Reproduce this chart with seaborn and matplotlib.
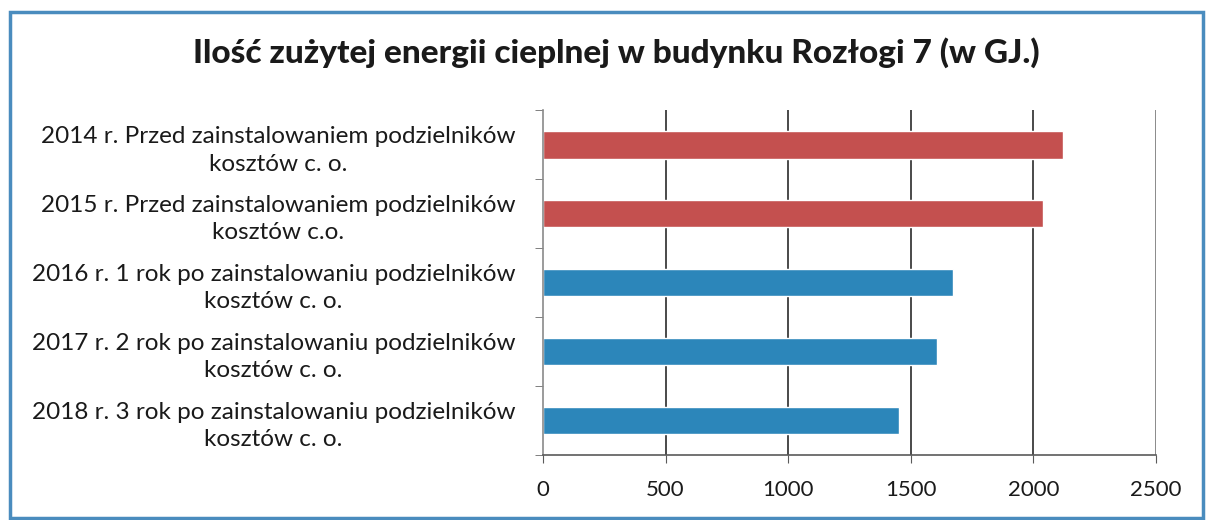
import pandas as pd
import matplotlib.pyplot as plt
import seaborn as sns
from matplotlib.patches import Rectangle

# Data
labels = [
    "2014 r. Przed zainstalowaniem podzielników\nkosztów c. o.",
    "2015 r. Przed zainstalowaniem podzielników\nkosztów c.o.",
    "2016 r. 1 rok po zainstalowaniu podzielników\nkosztów c. o.",
    "2017 r. 2 rok po zainstalowaniu podzielników\nkosztów c. o.",
    "2018 r. 3 rok po zainstalowaniu podzielników\nkosztów c. o.",
]
values = [2120, 2037, 1671, 1606, 1452]
groups = ["przed", "przed", "po", "po", "po"]
colors = {"przed": "#C4504F", "po": "#2C86BA"}
x_ticks = [0, 500, 1000, 1500, 2000, 2500]

df = pd.DataFrame({"Okres": labels, "GJ": values, "Grupa": groups})

sns.set_style("white")
plt.rcParams["font.family"] = ["Lato", "DejaVu Sans"]

fig = plt.figure(figsize=(12.08, 5.2), dpi=100)
ax = fig.add_axes([0.4495, 0.125, 0.5075, 0.663])

sns.barplot(data=df, y="Okres", x="GJ", hue="Grupa", palette=colors,
            orient="h", width=0.4, dodge=False, legend=False, ax=ax,
            saturation=1)

ax.set_xlim(0, 2500)
ax.set_ylim(4.5, -0.5)
ax.set_xticks(x_ticks)
ax.set_xlabel("")
ax.set_ylabel("")

# vertical gridlines
for t in x_ticks[1:]:
    ax.axvline(t, color="#4a4a4a" if t < 2500 else "#8a8a8a", lw=1.4, zorder=0)

for side in ["top", "right"]:
    ax.spines[side].set_visible(False)
ax.spines["left"].set_color("#8a8a8a")
ax.spines["bottom"].set_color("#5a5a5a")
ax.spines["left"].set_linewidth(1.2)
ax.spines["bottom"].set_linewidth(1.2)

# category boundary ticks, Excel style
ax.set_yticks(range(len(labels)))
ax.set_yticks([i - 0.5 for i in range(len(labels) + 1)], minor=True)
ax.tick_params(axis="y", which="major", length=0, pad=20, labelsize=17.5, labelcolor="#1a1a1a")
ax.tick_params(axis="y", which="minor", length=6, color="#6a6a6a", left=True)
ax.tick_params(axis="x", length=6, color="#5a5a5a", bottom=True, pad=12, labelsize=16, labelcolor="#1a1a1a")
for lab in ax.get_yticklabels():
    lab.set_multialignment("center")
    lab.set_linespacing(1.4)

fig.text(0.51, 0.898, "Ilość zużytej energii cieplnej w budynku Rozłogi 7 (w GJ.)",
         ha="center", va="center", fontsize=24, fontweight="black", color="#1a1a1a")

# blue frame around the chart
fig.patches.append(Rectangle((0.008, 0.004), 0.988, 0.972, transform=fig.transFigure,
                             fill=False, edgecolor="#4A8CBE", lw=2.5))

fig.savefig("out.png", dpi=100)
